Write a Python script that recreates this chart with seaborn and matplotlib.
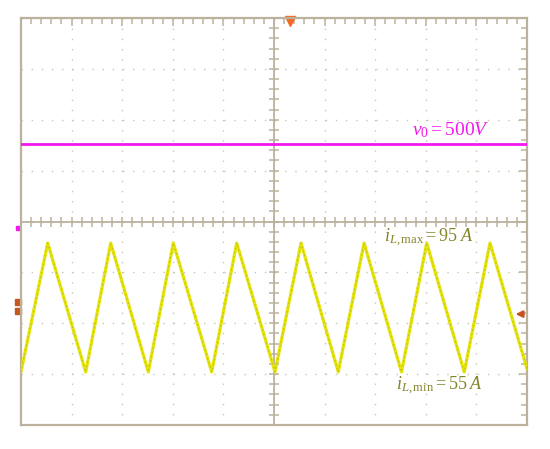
import numpy as np
import matplotlib
matplotlib.use("Agg")
import matplotlib.pyplot as plt
import seaborn as sns

# screen: 10 x 8 divisions, time axis read in divisions
t_current = [0.0, 0.528, 1.279, 1.773, 2.516, 3.01, 3.769, 4.263, 5.02,
             5.534, 6.27, 6.78, 7.52, 8.018, 8.76, 9.269, 10.0]
i_current = [55, 95, 55, 95, 55, 95, 55, 95, 55,
             95, 55, 95, 55, 95, 55, 95, 56]
t_voltage = [0.0, 10.0]
v_output = [500, 500]

sns.set_style("white")
plt.rcParams["mathtext.fontset"] = "custom"
plt.rcParams["mathtext.rm"] = "Liberation Serif"
plt.rcParams["mathtext.it"] = "Liberation Serif:italic"
plt.rcParams["font.family"] = ["Liberation Serif", "DejaVu Sans"]

frame_col = "#bcb19c"
dot_col = "#cbc3b4"
yellow = "#e4e40a"
magenta = "#f218ee"
olive = "#84842a"

fig = plt.figure(figsize=(5.5, 4.49), dpi=100)
pos = [21 / 550, 24 / 449, 506 / 550, 407 / 449]
ax = fig.add_axes(pos)
ax.set_xlim(0, 10)
ax.set_ylim(0, 8)

# frame + ticks
for s in ax.spines.values():
    s.set_color(frame_col)
    s.set_linewidth(1.6)
ax.set_xticks(np.arange(0, 11, 1))
ax.set_yticks(np.arange(0, 9, 1))
ax.set_xticks(np.arange(0, 10.01, 0.2), minor=True)
ax.set_yticks(np.arange(0, 8.01, 0.2), minor=True)
ax.tick_params(which="both", direction="in", top=True, right=True,
               color=frame_col, width=1.1, labelbottom=False, labelleft=False)
ax.tick_params(which="major", length=6)
ax.tick_params(which="minor", length=4.5)
ax.grid(True, which="major", color=dot_col, linewidth=1.0,
        linestyle=(0, (1.0, 6.3)))
ax.set_xlabel("")
ax.set_ylabel("")

# centre cross with ticks
ax.axvline(5, color=frame_col, lw=1.3, zorder=1)
ax.axhline(4, color=frame_col, lw=1.3, zorder=1)
cx = np.arange(0.2, 10, 0.2)
cy = np.arange(0.2, 8, 0.2)
ax.plot(cx, np.full_like(cx, 4), ls="none", marker="|", ms=7, mew=1.1,
        color=frame_col, zorder=1)
ax.plot(np.full_like(cy, 5), cy, ls="none", marker="_", ms=7, mew=1.1,
        color=frame_col, zorder=1)

# current trace on its own scale
ax_i = fig.add_axes(pos, sharex=ax)
k = 40 / 2.535
ax_i.set_ylim(55 - 1.042 * k, 55 + (8 - 1.042) * k)
ax_i.axis("off")
sns.lineplot(x=t_current, y=i_current, ax=ax_i, color=yellow, lw=2.3,
             estimator=None, sort=False)
ax_i.plot(t_current, i_current, color="#a89c1c", lw=0.7,
          ls=(0, (1.5, 3)), alpha=0.6)

# voltage trace on its own scale
ax_v = fig.add_axes(pos, sharex=ax)
ax_v.set_ylim(500 - 5.52 * 200, 500 + (8 - 5.52) * 200)
ax_v.axis("off")
sns.lineplot(x=t_voltage, y=v_output, ax=ax_v, color=magenta, lw=2.0,
             estimator=None, sort=False)

# labels
ax.text(7.72, 5.70, r"$v_0=500V$", color=magenta, fontsize=14,
        ha="left", va="baseline")
ax.text(7.17, 3.60, r"$i_{L,\mathrm{max}}=95\;A$", color=olive, fontsize=13,
        ha="left", va="baseline")
ax.text(7.41, 0.69, r"$i_{L,\mathrm{min}}=55\;A$", color=olive, fontsize=13,
        ha="left", va="baseline")

# scope markers
ax.plot([-0.05], [3.87], marker="s", ms=2.8, color=magenta, clip_on=False)
ax.plot([-0.05, -0.05], [2.41, 2.25], ls="none", marker="s", ms=4.2,
        color="#c4561e", clip_on=False)
ax.plot([5.32], [7.95], marker="v", ms=7, color="#f26a22", clip_on=False)
ax.annotate("", xy=(9.72, 2.18), xytext=(9.99, 2.18),
            arrowprops=dict(arrowstyle="-|>", color="#c8501e", lw=1.5,
                            mutation_scale=10))

fig.savefig("out.png", dpi=100)
